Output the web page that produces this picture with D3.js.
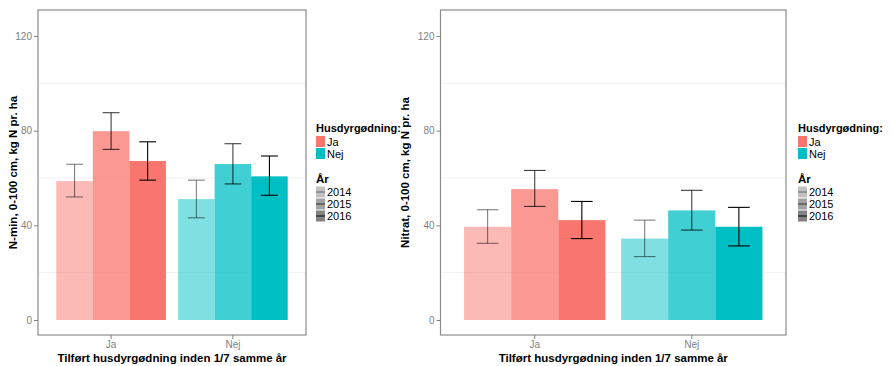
<!DOCTYPE html>
<html>
<head>
<meta charset="utf-8">
<script src="https://cdn.jsdelivr.net/npm/d3@7"></script>
<style>
  body { margin: 0; background: #fff; }
  text { font-family: "Liberation Sans", Arial, sans-serif; }
</style>
</head>
<body>
<script>
// data
const groups = ["Ja", "Nej"];
const years = ["2014", "2015", "2016"];

// N-min, 0-100 cm (mean, lower, upper) per group x year
const nminMean = [[58.7, 79.8, 67.2], [51.1, 65.9, 60.7]];
const nminLow  = [[52.0, 72.1, 59.1], [43.2, 57.5, 52.7]];
const nminHigh = [[65.8, 87.6, 75.3], [59.1, 74.5, 69.3]];

// Nitrat, 0-100 cm
const nitMean = [[39.4, 55.3, 42.2], [34.4, 46.3, 39.4]];
const nitLow  = [[32.4, 48.0, 34.4], [26.8, 38.0, 31.3]];
const nitHigh = [[46.6, 63.2, 50.1], [42.2, 54.8, 47.6]];

const yTicks = [0, 40, 80, 120];
const yMinor = [20, 60, 100];

const groupColors = ["#F8766D", "#00BFC4"];
const yearAlpha = [0.5, 0.75, 1];

const w = 892, h = 366;

const svg = d3.select("body").append("svg")
    .attr("width", w)
    .attr("height", h);

function panel(opt) {
    const x = d3.scaleBand()
        .domain(groups)
        .range([opt.left, opt.right])
        .paddingInner(0.1)
        .paddingOuter(0.15);

    const xYear = d3.scaleBand()
        .domain(years)
        .range([0, x.bandwidth()]);

    const y = d3.scaleLinear()
        .domain([-6.34, 131])
        .range([335, 10]);

    const g = svg.append("g");

    // minor grid lines only (the major ones are white)
    g.selectAll(".minor")
        .data(yMinor)
        .enter().append("line")
        .attr("x1", opt.left).attr("x2", opt.right)
        .attr("y1", d => y(d)).attr("y2", d => y(d))
        .attr("stroke", "#ececec")
        .attr("stroke-width", 0.8);

    const rows = [];
    groups.forEach((gr, gi) => {
        years.forEach((yr, yi) => {
            rows.push({ gr: gr, gi: gi, yr: yr, yi: yi,
                mean: opt.mean[gi][yi], low: opt.low[gi][yi], high: opt.high[gi][yi] });
        });
    });

    g.selectAll(".bar")
        .data(rows)
        .enter().append("rect")
        .attr("x", d => x(d.gr) + xYear(d.yr))
        .attr("width", xYear.bandwidth())
        .attr("y", d => y(d.mean))
        .attr("height", d => y(0) - y(d.mean))
        .attr("fill", d => groupColors[d.gi])
        .attr("fill-opacity", d => yearAlpha[d.yi]);

    const capHalf = xYear.bandwidth() * 0.23;
    const err = g.selectAll(".err")
        .data(rows)
        .enter().append("g")
        .attr("stroke", "#000")
        .attr("stroke-opacity", d => yearAlpha[d.yi])
        .attr("stroke-width", 1.1)
        .attr("transform", d => "translate(" + (x(d.gr) + xYear(d.yr) + xYear.bandwidth() / 2) + ",0)");
    err.append("line")
        .attr("y1", d => y(d.low)).attr("y2", d => y(d.high));
    err.append("line")
        .attr("x1", -capHalf).attr("x2", capHalf)
        .attr("y1", d => y(d.low)).attr("y2", d => y(d.low));
    err.append("line")
        .attr("x1", -capHalf).attr("x2", capHalf)
        .attr("y1", d => y(d.high)).attr("y2", d => y(d.high));

    // panel border
    g.append("rect")
        .attr("x", opt.left).attr("y", 10)
        .attr("width", opt.right - opt.left).attr("height", 325)
        .attr("fill", "none")
        .attr("stroke", "#8c8c8c")
        .attr("stroke-width", 1.2);

    const yAxis = g.append("g")
        .attr("transform", "translate(" + opt.left + ",0)")
        .call(d3.axisLeft(y).tickValues(yTicks).tickSize(4).tickPadding(2));
    yAxis.select(".domain").remove();
    yAxis.selectAll("line").attr("stroke", "#7f7f7f");
    yAxis.selectAll("text").attr("fill", "#7f7f7f").style("font-size", "10px");

    const xAxis = g.append("g")
        .attr("transform", "translate(0,335)")
        .call(d3.axisBottom(x).tickSize(4).tickPadding(2));
    xAxis.select(".domain").remove();
    xAxis.selectAll("line").attr("stroke", "#7f7f7f");
    xAxis.selectAll("text").attr("fill", "#7f7f7f").style("font-size", "10px");

    g.append("text")
        .attr("x", (opt.left + opt.right) / 2)
        .attr("y", 362)
        .attr("text-anchor", "middle")
        .style("font-size", "11.5px")
        .style("font-weight", "bold")
        .text("Tilført husdyrgødning inden 1/7 samme år");

    g.append("text")
        .attr("transform", "translate(" + opt.ytitleX + "," + 172.5 + ") rotate(-90)")
        .attr("text-anchor", "middle")
        .style("font-size", "11.5px")
        .style("font-weight", "bold")
        .text(opt.ytitle);

    // legend
    const lg = g.append("g").attr("transform", "translate(" + opt.legendX + ",0)");
    lg.append("text")
        .attr("x", 0).attr("y", 132)
        .style("font-size", "11px")
        .style("font-weight", "bold")
        .text("Husdyrgødning:");
    groups.forEach((gr, i) => {
        const yy = 136 + i * 12;
        lg.append("rect")
            .attr("x", 0).attr("y", yy)
            .attr("width", 9).attr("height", 11)
            .attr("fill", groupColors[i]);
        lg.append("text")
            .attr("x", 11).attr("y", yy + 9.5)
            .style("font-size", "11px")
            .text(gr);
    });
    lg.append("text")
        .attr("x", 0).attr("y", 183)
        .style("font-size", "11.5px")
        .style("font-weight", "bold")
        .text("År");
    years.forEach((yr, i) => {
        const yy = 186.5 + i * 12;
        lg.append("rect")
            .attr("x", 0).attr("y", yy)
            .attr("width", 9).attr("height", 11)
            .attr("fill", "#595959")
            .attr("fill-opacity", yearAlpha[i] * 0.75);
        lg.append("line")
            .attr("x1", 0).attr("x2", 9)
            .attr("y1", yy + 5.5).attr("y2", yy + 5.5)
            .attr("stroke", "#000")
            .attr("stroke-opacity", yearAlpha[i] * 0.8)
            .attr("stroke-width", 1.2);
        lg.append("text")
            .attr("x", 11).attr("y", yy + 9.5)
            .style("font-size", "11px")
            .text(yr);
    });
}

panel({ left: 38, right: 306, mean: nminMean, low: nminLow, high: nminHigh,
    ytitle: "N-min, 0-100 cm, kg N pr. ha", ytitleX: 17, legendX: 316 });

panel({ left: 440.5, right: 786, mean: nitMean, low: nitLow, high: nitHigh,
    ytitle: "Nitrat, 0-100 cm, kg N pr. ha", ytitleX: 409, legendX: 798 });
</script>
</body>
</html>
